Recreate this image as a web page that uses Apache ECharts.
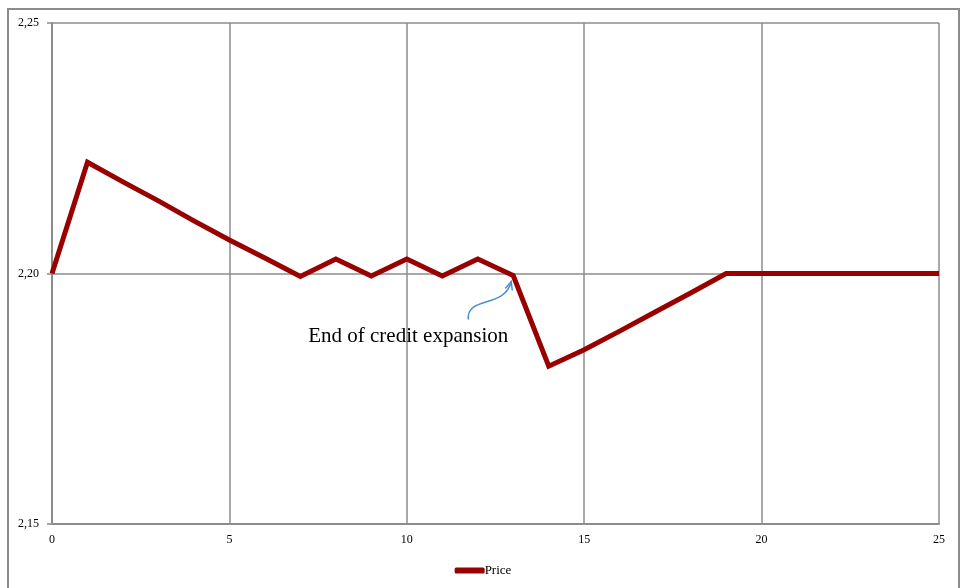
<!DOCTYPE html>
<html><head><meta charset="utf-8">
<script src="https://cdn.jsdelivr.net/npm/echarts@6/dist/echarts.min.js"></script>
<style>html,body{margin:0;padding:0;background:#fff}#c{width:966px;height:588px}</style>
</head><body><div id="c"></div>
<script>
const periods = [0,1,2,3,4,5,6,7,8,9,10,11,12,13,14,15,16,17,18,19,20,21,22,23,24,25];
const price = [2.200,2.2222,2.2183,2.2145,2.2105,2.2067,2.2031,2.1994,2.2029,2.1995,2.2029,2.1995,2.2029,2.1996,2.1815,2.1848,2.1885,2.1923,2.1961,2.200,2.200,2.200,2.200,2.200,2.200,2.200];
const yTicks = [2.15, 2.20, 2.25];
const xTicks = [0,5,10,15,20,25];
const seriesName = 'Price';
const annotationText = 'End of credit expansion';
const annotationAt = [13, 2.1996];

const chart = echarts.init(document.getElementById('c'));
const serif = '"Liberation Serif", "DejaVu Serif", serif';
chart.setOption({
  animation: false,
  grid: {left: 52, right: 27, top: 23, bottom: 64, containLabel: false},
  legend: {
    bottom: 6, left: 'center', data: [seriesName],
    icon: 'roundRect', itemWidth: 30, itemHeight: 6, itemGap: 0,
    textStyle: {fontFamily: serif, fontSize: 13, color: '#000', padding: [0,0,0,-5]}
  },
  xAxis: {
    type: 'value', min: 0, max: 25, interval: 5,
    axisLine: {show: true, onZero: false, lineStyle: {color: '#8c8c8c', width: 2}},
    axisTick: {show: false},
    splitLine: {show: true, lineStyle: {color: '#8c8c8c', width: 1.5}},
    axisLabel: {fontFamily: serif, fontSize: 12, color: '#000', margin: 10,
      formatter: v => xTicks.includes(v) ? String(v) : ''}
  },
  yAxis: {
    type: 'value', min: 2.15, max: 2.25, interval: 0.05,
    axisLine: {show: true, lineStyle: {color: '#8c8c8c', width: 2}},
    axisTick: {show: true, length: 5, lineStyle: {color: '#8c8c8c', width: 1.5}},
    splitLine: {show: true, lineStyle: {color: '#8c8c8c', width: 1.5}},
    axisLabel: {fontFamily: serif, fontSize: 12, color: '#000', margin: 13,
      formatter: v => yTicks.some(t => Math.abs(t - v) < 1e-9) ? v.toFixed(2).replace('.', ',') : ''}
  },
  series: [{
    name: seriesName, type: 'line', symbol: 'none',
    data: periods.map((p, i) => [p, price[i]]),
    lineStyle: {color: '#990000', width: 5, join: 'miter'},
    itemStyle: {color: '#990000'}
  }]
});

const tip = chart.convertToPixel({xAxisIndex: 0, yAxisIndex: 0}, annotationAt);
const tx = tip[0] - 2, ty = tip[1] + 6;
chart.setOption({
  graphic: [
    {type: 'rect', shape: {x: 8, y: 9, width: 951, height: 585}, silent: true,
     style: {fill: 'none', stroke: '#8c8c8c', lineWidth: 2}, z: 0},
    {type: 'text', x: tx - 103, y: ty + 55, silent: true,
     style: {text: annotationText, fontFamily: serif, fontSize: 21, fill: '#000',
       textAlign: 'center', textVerticalAlign: 'middle'}},
    {type: 'bezierCurve', silent: true,
     shape: {x1: tx - 43, x2: tx, y1: ty + 38, y2: ty,
       cpx1: tx - 45, cpy1: ty + 14, cpx2: tx - 6, cpy2: ty + 27},
     style: {stroke: '#4a90d9', lineWidth: 1.5, fill: 'none'}},
    {type: 'polyline', silent: true,
     shape: {points: [[tx - 6, ty + 7], [tx, ty], [tx + 1, ty + 9]]},
     style: {stroke: '#4a90d9', lineWidth: 1.5, fill: 'none'}}
  ]
});
</script></body></html>
